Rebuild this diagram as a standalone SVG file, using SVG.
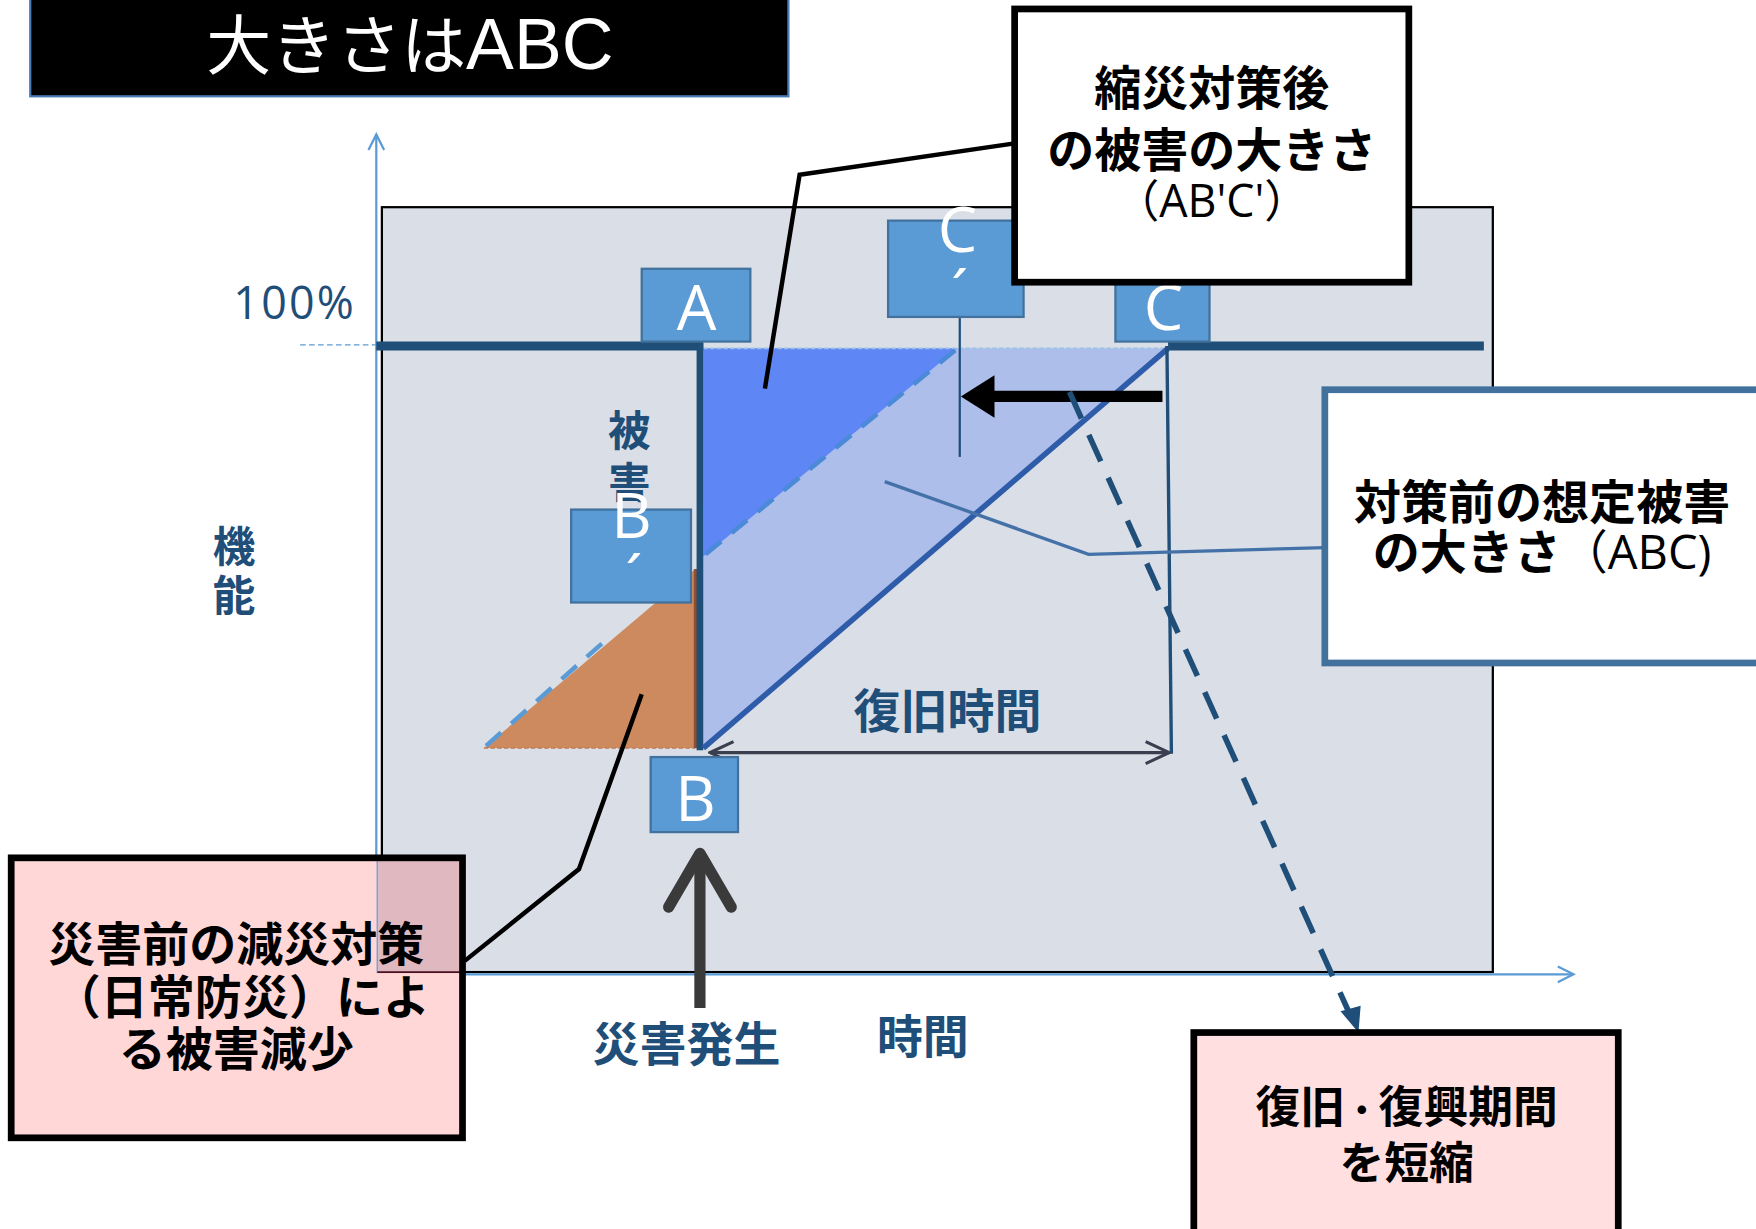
<svg xmlns="http://www.w3.org/2000/svg" width="1756" height="1229" viewBox="0 0 1756 1229">
<defs>
<style>
.jp{font-family:"Noto Sans CJK JP","Noto Sans",sans-serif;font-weight:bold}
.lbl{font-family:"Open Sans","Noto Sans",sans-serif;fill:#ffffff;font-size:56px;text-anchor:middle}
.tag{fill:#5b9bd5;stroke:#41719c;stroke-width:2}
.dk{fill:#1f4e79}
</style>
<marker id="openTip" viewBox="0 0 20 20" refX="18" refY="10" markerWidth="20" markerHeight="20" markerUnits="userSpaceOnUse" orient="auto">
<path d="M4,3 L18,10 L4,17" fill="none" stroke="#5b9bd5" stroke-width="2"/>
</marker>
<marker id="dimTip" viewBox="0 0 20 20" refX="19" refY="10" markerWidth="28" markerHeight="28" markerUnits="userSpaceOnUse" orient="auto-start-reverse">
<path d="M4,3 L19,10 L4,17" fill="none" stroke="#3a3f4f" stroke-width="2"/>
</marker>
</defs>
<rect width="1756" height="1229" fill="#ffffff"/>
<g transform="scale(1.1199)">
<g id="title">
<rect x="27" y="-4" width="677" height="90" fill="#000000" stroke="#4a7ab5" stroke-width="2"/>
<text x="366" y="62" font-family="'Noto Sans CJK JP','Liberation Sans',sans-serif" font-size="58" fill="#ffffff" text-anchor="middle">大きさは<tspan font-family="'Liberation Sans',sans-serif" font-size="64">ABC</tspan></text>
</g>
<g id="plot">
<rect x="341" y="185" width="992" height="683" fill="#d9dee7" stroke="#000000" stroke-width="2"/>
</g>
<g id="axes">
<line x1="336" y1="870" x2="336" y2="120" stroke="#5b9bd5" stroke-width="2" marker-end="url(#openTip)"/>
<line x1="336" y1="870" x2="1405" y2="870" stroke="#5b9bd5" stroke-width="2" marker-end="url(#openTip)"/>
<line x1="268" y1="308" x2="340" y2="308" stroke="#5b9bd5" stroke-width="1.2" stroke-dasharray="5,3"/>
<text x="318" y="285" font-family="'Open Sans','Noto Sans',sans-serif" font-size="40" fill="#1f4e79" text-anchor="end" letter-spacing="2">100%</text>
<text class="jp dk" x="209" y="502" font-size="38" text-anchor="middle">機</text>
<text class="jp dk" x="209" y="546" font-size="38" text-anchor="middle">能</text>
<text class="jp dk" x="846" y="650" font-size="42" text-anchor="middle">復旧時間</text>
<text class="jp dk" x="613" y="947" font-size="42" text-anchor="middle">災害発生</text>
<text class="jp dk" x="824" y="940" font-size="41" text-anchor="middle">時間</text>
<text class="jp dk" x="562" y="398" font-size="38" text-anchor="middle">被</text>
<text class="jp dk" x="562" y="445" font-size="38" text-anchor="middle">害</text>
</g>
<g id="areas">
<polygon points="628,311 1043,311 628,668" fill="#adbeea"/>
<polygon points="628,311 855,311 628,497" fill="#5f86f5"/>
<line x1="628" y1="311" x2="1043" y2="311" stroke="#9cc2e5" stroke-width="1.5" stroke-dasharray="4,2"/>
<line x1="630" y1="495" x2="855" y2="311" stroke="#4a8ad8" stroke-width="4" stroke-dasharray="18,12"/>
<polygon points="432,668 621,668 621,508" fill="#cd8a5e"/>
<line x1="432" y1="668" x2="621" y2="668" stroke="#c07a50" stroke-width="1.2" stroke-dasharray="4,2"/>
<line x1="434" y1="666" x2="545" y2="568" stroke="#5b9bd5" stroke-width="4" stroke-dasharray="18,12"/>
<line x1="621" y1="508" x2="621" y2="668" stroke="#8a5030" stroke-width="3"/>
</g>
<g id="connectors">
<line x1="336" y1="309" x2="628" y2="309" stroke="#1f4e79" stroke-width="8"/>
<line x1="1043" y1="309" x2="1325" y2="309" stroke="#1f4e79" stroke-width="8"/>
<line x1="625" y1="306" x2="625" y2="670" stroke="#1f4e79" stroke-width="6"/>
<line x1="628" y1="668" x2="1043" y2="311" stroke="#2e5ca8" stroke-width="5"/>
<line x1="1042" y1="309" x2="1046" y2="673" stroke="#1f4e79" stroke-width="3"/>
<line x1="857" y1="284" x2="857" y2="408" stroke="#1f4e79" stroke-width="2"/>
<line x1="634" y1="672" x2="1044" y2="672" stroke="#3a3f4f" stroke-width="3" marker-start="url(#dimTip)" marker-end="url(#dimTip)"/>
<line x1="1038" y1="354" x2="885" y2="354" stroke="#000000" stroke-width="10"/>
<polygon points="858,354 888,335 888,373" fill="#000000"/>
<polyline points="683,347 714,156 906,128" fill="none" stroke="#000000" stroke-width="4"/>
<polyline points="790,430 972,495 1183,489" fill="none" stroke="#4472a8" stroke-width="3"/>
<polyline points="415,858 517,776 573,620" fill="none" stroke="#000000" stroke-width="4"/>
<line x1="955" y1="350" x2="1205" y2="905" stroke="#1f4e79" stroke-width="5" stroke-dasharray="26,16"/>
<polygon points="1213,922 1197,903 1215,898" fill="#1f4e79"/>
<line x1="625" y1="900" x2="625" y2="765" stroke="#3a3a3a" stroke-width="10"/>
<polyline points="597,810 625,762 653,810" fill="none" stroke="#3a3a3a" stroke-width="10" stroke-linecap="round" stroke-linejoin="round"/>
</g>
<g id="tagA"><rect class="tag" x="573" y="240" width="97" height="65"/><text class="lbl" x="622" y="295">A</text></g>
<g id="tagCp"><rect class="tag" x="793" y="197" width="121" height="86"/><text class="lbl" x="855" y="225" font-size="62">C</text><text class="lbl" x="857" y="282" font-size="36">´</text></g>
<g id="tagC"><rect class="tag" x="996" y="240" width="84" height="65"/><text class="lbl" x="1039" y="295">C</text></g>
<g id="tagBp"><rect class="tag" x="510" y="455" width="107" height="83"/><text class="lbl" x="564" y="480" font-size="58">B</text><text class="lbl" x="566" y="537" font-size="36">´</text></g>
<g id="tagB"><rect class="tag" x="581" y="676" width="78" height="67"/><text class="lbl" x="621" y="733">B</text></g>
<g id="boxABpCp">
<rect x="906" y="8" width="352" height="244" fill="#ffffff" stroke="#000000" stroke-width="6"/>
<text class="jp" x="1082" y="94" font-size="42" text-anchor="middle">縮災対策後</text>
<text class="jp" x="1082" y="149" font-size="42" text-anchor="middle">の被害の大きさ</text>
<text x="1082" y="194" font-family="'Open Sans','Noto Sans CJK JP',sans-serif" font-size="40" text-anchor="middle">（AB'C'）</text>
</g>
<g id="boxABC">
<rect x="1183" y="348" width="400" height="244" fill="#ffffff" stroke="#41719c" stroke-width="6"/>
<text class="jp" x="1377" y="463" font-size="42" text-anchor="middle">対策前の想定被害</text>
<text x="1377" y="508" font-size="42" text-anchor="middle"><tspan class="jp">の大きさ</tspan><tspan font-family="'Open Sans','Noto Sans CJK JP',sans-serif">（ABC)</tspan></text>
</g>
<g id="boxPre">
<rect x="10" y="766" width="403" height="250" fill="#ffd7d7"/>
<rect x="338" y="766" width="75" height="103" fill="#dfb8c0"/>
<line x1="337" y1="766" x2="337" y2="869" stroke="#7f9fd0" stroke-width="1.5"/>
<line x1="337" y1="868" x2="413" y2="868" stroke="#4a1020" stroke-width="1.5"/>
<rect x="10" y="766" width="403" height="250" fill="none" stroke="#000000" stroke-width="6"/>
<text class="jp" x="211" y="858" font-size="42" text-anchor="middle">災害前の減災対策</text>
<text class="jp" x="216" y="905" font-size="42" text-anchor="middle">（日常防災）によ</text>
<text class="jp" x="211" y="952" font-size="42" text-anchor="middle">る被害減少</text>
</g>
<g id="boxShort">
<rect x="1066" y="922" width="379" height="180" fill="#ffdfe0" stroke="#000000" stroke-width="6"/>
<text class="jp" x="1256" y="1003" font-size="40" text-anchor="middle">復旧<tspan font-size="30">・</tspan>復興期間</text>
<text class="jp" x="1256" y="1053" font-size="40" text-anchor="middle">を短縮</text>
</g>
</g>
</svg>
